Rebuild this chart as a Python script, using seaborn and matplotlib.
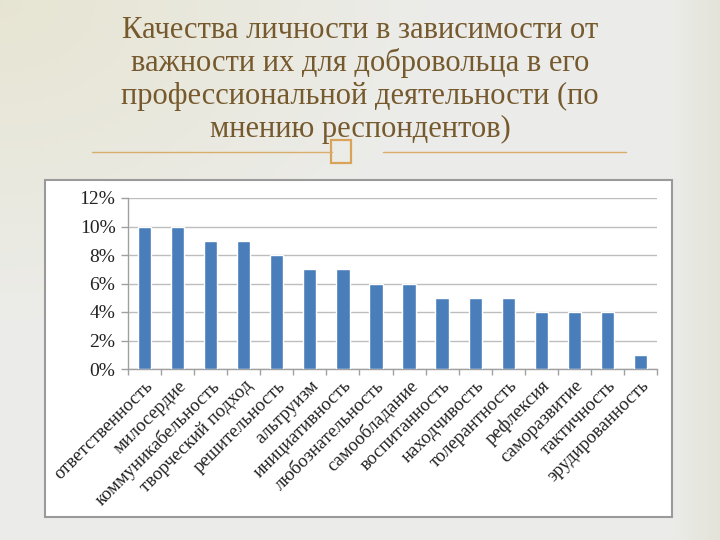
import matplotlib
matplotlib.use("Agg")
import matplotlib.pyplot as plt
import seaborn as sns
import numpy as np
import pandas as pd
from matplotlib.patches import Rectangle
from matplotlib.lines import Line2D
from matplotlib.ticker import FuncFormatter, FixedLocator

categories = ["ответственность", "милосердие", "коммуникабельность", "творческий подход",
              "решительность", "альтруизм", "инициативность", "любознательность",
              "самообладание", "воспитанность", "находчивость", "толерантность",
              "рефлексия", "саморазвитие", "тактичность", "эрудированность"]
values = [10, 10, 9, 9, 8, 7, 7, 6, 6, 5, 5, 5, 4, 4, 4, 1]
y_ticks = [0, 2, 4, 6, 8, 10, 12]
title_lines = ["Качества личности в зависимости от",
               "важности их для добровольца в его",
               "профессиональной деятельности (по",
               "мнению респондентов)"]

sns.set_theme(style="white")
plt.rcParams['font.family'] = ['Liberation Serif', 'DejaVu Serif']

fig = plt.figure(figsize=(7.2, 5.4), dpi=100)
fig.patch.set_facecolor('#ebebe8')

# background gradient
bg = fig.add_axes([0, 0, 1, 1], zorder=-10)
gx = np.linspace(0, 1, 200)
gy = np.linspace(0, 1, 150)
X, Y = np.meshgrid(gx, gy)
warm = np.clip(1 - np.sqrt(X**2 + Y**2) / 0.6, 0, 1)
right = np.clip((X - 0.93) / 0.07, 0, 1)
img = np.zeros((150, 200, 3))
base = np.array([0.925, 0.925, 0.915])
tint = np.array([0.90, 0.89, 0.80])
rt = np.array([0.88, 0.88, 0.83])
for c in range(3):
    img[:, :, c] = base[c] * (1 - warm * 0.8 - right * 0.7) + tint[c] * warm * 0.8 + rt[c] * right * 0.7
bg.imshow(img, extent=[0, 1, 0, 1], aspect='auto', origin='upper')
bg.set_axis_off()

# title
for i, line in enumerate(title_lines):
    fig.text(0.5, 1 - (30 + i * 33) / 540, line, ha='center', va='center', fontsize=22,
             color='#765a2e', family=['Liberation Serif', 'DejaVu Serif'])

# decorative lines and box
fig.add_artist(Line2D([92/720, 332/720], [1-152/540]*2, color='#d9ad6c', lw=1.0))
fig.add_artist(Line2D([383/720, 626/720], [1-152/540]*2, color='#d9ad6c', lw=1.0))
fig.add_artist(Rectangle((331/720, 1-163/540), 20/720, 23/540, fill=False,
                         edgecolor='#d9a35a', lw=1.6))

# chart box
fig.add_artist(Rectangle((45/720, 1-517/540), 627/720, 337/540, facecolor='white',
                         edgecolor='#9a9a9a', lw=1.5, zorder=0))

ax = fig.add_axes([128/720, 1-369/540, 529/720, 171/540])
ax.set_facecolor('none')
df = pd.DataFrame({"cat": categories, "val": values})
sns.barplot(data=df, x="cat", y="val", color='#4a7ebb', saturation=1, width=0.4, ax=ax, zorder=3)
ax.set_xlim(-0.5, len(categories) - 0.5)
ax.set_ylim(0, 12)
ax.set_yticks(y_ticks)
ax.yaxis.set_major_formatter(FuncFormatter(lambda v, p: f"{v:.0f}%"))
ax.grid(axis='y', color='#bdbdbd', lw=1.0, zorder=0)
ax.set_xlabel("")
ax.set_ylabel("")
for s in ['top', 'right']:
    ax.spines[s].set_visible(False)
for s in ['left', 'bottom']:
    ax.spines[s].set_color('#a0a0a0')
    ax.spines[s].set_linewidth(1.0)
ax.tick_params(axis='y', labelsize=14, colors='#a0a0a0', labelcolor='#222222',
               length=5, width=1, direction='out', left=True, pad=4)
ax.set_xticks(range(len(categories)))
ax.set_xticklabels(categories, rotation=45, ha='right', rotation_mode='anchor',
                   fontsize=13.5, color='#222222')
ax.tick_params(axis='x', which='major', length=0, pad=6)
ax.xaxis.set_minor_locator(FixedLocator(np.arange(-0.5, len(categories), 1)))
ax.tick_params(axis='x', which='minor', length=4, width=1, color='#a0a0a0', bottom=True)

fig.savefig("out.png", dpi=100, facecolor=fig.get_facecolor())
